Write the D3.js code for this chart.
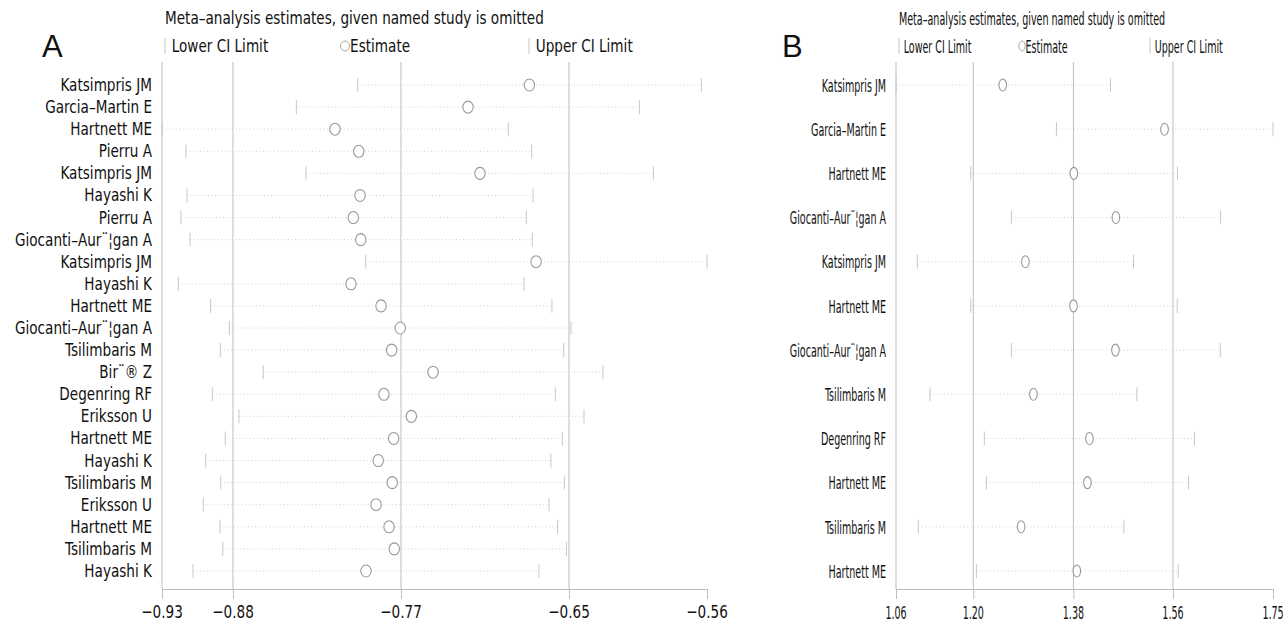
<!DOCTYPE html>
<html>
<head>
<meta charset="utf-8">
<script src="https://cdn.jsdelivr.net/npm/d3@7"></script>
<style>
  body { margin: 0; background: #fff; }
  svg text { font-family: "Liberation Sans Narrow", "DejaVu Sans Condensed", sans-serif; fill: #111; }
</style>
</head>
<body>
<div id="chart"></div>
<script>
const svgWidth = 1288
const svgHeight = 623

// panel A: study omitted, estimate and CI
const studiesA = ["Katsimpris JM", "Garcia–Martin E", "Hartnett ME", "Pierru A", "Katsimpris JM", "Hayashi K",
  "Pierru A", "Giocanti–Aur¨¦gan A", "Katsimpris JM", "Hayashi K", "Hartnett ME", "Giocanti–Aur¨¦gan A",
  "Tsilimbaris M", "Bir¨® Z", "Degenring RF", "Eriksson U", "Hartnett ME", "Hayashi K", "Tsilimbaris M",
  "Eriksson U", "Hartnett ME", "Tsilimbaris M", "Hayashi K"]
const lowerA = [-0.7977, -0.8398, -0.9318, -0.9155, -0.8332, -0.9148, -0.9190, -0.9128, -0.7922, -0.9208, -0.8986, -0.8858,
  -0.8920, -0.8625, -0.8975, -0.8792, -0.8886, -0.9020, -0.8917, -0.9037, -0.8922, -0.8903, -0.9107]
const estA = [-0.6799, -0.7220, -0.8133, -0.7970, -0.7138, -0.7961, -0.8007, -0.7956, -0.6753, -0.8023, -0.7817, -0.7685,
  -0.7744, -0.7460, -0.7797, -0.7609, -0.7730, -0.7836, -0.7740, -0.7851, -0.7762, -0.7726, -0.7920]
const upperA = [-0.5619, -0.6044, -0.6944, -0.6783, -0.5948, -0.6774, -0.6820, -0.6779, -0.5580, -0.6836, -0.6644, -0.6513,
  -0.6563, -0.6294, -0.6621, -0.6424, -0.6573, -0.6651, -0.6559, -0.6664, -0.6605, -0.6545, -0.6733]
const ticksA = [-0.9320, -0.8833, -0.7680, -0.6527, -0.5580]

// panel B
const studiesB = ["Katsimpris JM", "Garcia–Martin E", "Hartnett ME", "Giocanti–Aur¨¦gan A", "Katsimpris JM", "Hartnett ME",
  "Giocanti–Aur¨¦gan A", "Tsilimbaris M", "Degenring RF", "Hartnett ME", "Tsilimbaris M", "Hartnett ME"]
const lowerB = [1.0640, 1.3538, 1.1989, 1.2724, 1.1023, 1.1989, 1.2724, 1.1253, 1.2235, 1.2272, 1.1041, 1.2091]
const estB = [1.2568, 1.5492, 1.3853, 1.4612, 1.2977, 1.3847, 1.4605, 1.3122, 1.4135, 1.4099, 1.2899, 1.3907]
const upperB = [1.4515, 1.7453, 1.5727, 1.6505, 1.4931, 1.5721, 1.6500, 1.4992, 1.6034, 1.5926, 1.4757, 1.5739]
const ticksB = [1.0638, 1.2035, 1.3845, 1.5645, 1.7453]

const titleText = "Meta–analysis estimates, given named study is omitted"

var svg = d3.select("#chart").append("svg")
  .attr("width", svgWidth)
  .attr("height", svgHeight)

function addText(g, x, y, str, size, sx, anchor) {
  return g.append("text")
    .attr("transform", "translate(" + x + "," + y + ") scale(" + sx + ",1)")
    .attr("text-anchor", anchor || "start")
    .attr("dominant-baseline", "central")
    .style("font-size", size + "px")
    .text(str)
}

function renderPanel(cfg) {
  var g = svg.append("g")
  var top = 62, bottom = 589

  var x = d3.scaleLinear().domain([cfg.ticks[0], cfg.ticks[cfg.ticks.length - 1]]).range([cfg.left, cfg.right])
  var y = d3.scaleLinear().domain([0, cfg.studies.length - 1]).range([85, 571])

  // letter + header
  g.append("text")
    .attr("x", cfg.letterX).attr("y", 46)
    .attr("dominant-baseline", "central")
    .style("font-family", "'Liberation Sans', Arial, sans-serif")
    .style("font-size", "31px")
    .text(cfg.letter)

  addText(g, cfg.left + 3, 18, titleText, 18, cfg.sx)

  var legY = 46
  g.append("line").attr("x1", cfg.leg[0]).attr("x2", cfg.leg[0]).attr("y1", legY - 8).attr("y2", legY + 8)
    .attr("stroke", "#c4c4c4")
  addText(g, cfg.leg[0] + 8 * cfg.sx, legY, "Lower CI Limit", 18, cfg.sx)
  g.append("ellipse").attr("cx", cfg.leg[1]).attr("cy", legY).attr("rx", 4.5 * cfg.sx / 0.84).attr("ry", 5)
    .attr("fill", "none").attr("stroke", "#aaa")
  addText(g, cfg.leg[1] + 6 * cfg.sx, legY, "Estimate", 18, cfg.sx)
  g.append("line").attr("x1", cfg.leg[2]).attr("x2", cfg.leg[2]).attr("y1", legY - 8).attr("y2", legY + 8)
    .attr("stroke", "#c4c4c4")
  addText(g, cfg.leg[2] + 8 * cfg.sx, legY, "Upper CI Limit", 18, cfg.sx)

  // vertical reference lines
  g.selectAll(".grid")
    .data(cfg.ticks.slice(0, cfg.ticks.length - 1))
    .enter().append("line")
    .attr("x1", d => x(d)).attr("x2", d => x(d))
    .attr("y1", top).attr("y2", bottom)
    .attr("stroke", "#bdbdbd")

  // x axis
  var axis = g.append("g")
    .attr("transform", "translate(0," + bottom + ")")
    .call(d3.axisBottom(x).tickValues(cfg.ticks).tickSize(10).tickSizeOuter(0).tickFormat(d3.format(".2f")))
  axis.select(".domain").attr("stroke", "#bdbdbd")
  axis.selectAll(".tick line").attr("stroke", "#bdbdbd")
  axis.selectAll(".tick text").remove()
  cfg.ticks.forEach(function(t) {
    addText(axis, x(t), 23, d3.format(".2f")(t), 18, cfg.sx, "middle")
  })

  // study labels
  cfg.studies.forEach(function(s, i) {
    addText(g, cfg.left - 10, y(i), s, 18, cfg.sx, "end")
  })

  var rows = cfg.studies.map(function(s, i) {
    return { lo: cfg.lower[i], est: cfg.est[i], hi: cfg.upper[i], i: i }
  })

  // dotted CI lines
  g.selectAll(".ci")
    .data(rows).enter().append("line")
    .attr("x1", d => x(d.lo)).attr("x2", d => x(d.hi))
    .attr("y1", d => y(d.i)).attr("y2", d => y(d.i))
    .attr("stroke", "#cfcfcf")
    .attr("stroke-dasharray", "1,2.5")

  // CI end marks
  g.selectAll(".lo")
    .data(rows).enter().append("line")
    .attr("x1", d => x(d.lo)).attr("x2", d => x(d.lo))
    .attr("y1", d => y(d.i) - 7).attr("y2", d => y(d.i) + 7)
    .attr("stroke", "#c8c8c8")
  g.selectAll(".hi")
    .data(rows).enter().append("line")
    .attr("x1", d => x(d.hi)).attr("x2", d => x(d.hi))
    .attr("y1", d => y(d.i) - 7).attr("y2", d => y(d.i) + 7)
    .attr("stroke", "#c8c8c8")

  // estimates
  g.selectAll(".est")
    .data(rows).enter().append("ellipse")
    .attr("cx", d => x(d.est)).attr("cy", d => y(d.i))
    .attr("rx", cfg.rx).attr("ry", 6)
    .attr("fill", "#fff")
    .attr("stroke", "#999")
    .attr("stroke-width", 1.1)
}

renderPanel({
  letter: "A", letterX: 42, left: 162, right: 707, sx: 0.84, rx: 5.2,
  studies: studiesA, lower: lowerA, est: estA, upper: upperA, ticks: ticksA,
  leg: [165, 345, 529]
})

renderPanel({
  letter: "B", letterX: 782, left: 896, right: 1273, sx: 0.59, rx: 3.8,
  studies: studiesB, lower: lowerB, est: estB, upper: upperB, ticks: ticksB,
  leg: [899, 1022, 1150]
})
</script>
</body>
</html>
